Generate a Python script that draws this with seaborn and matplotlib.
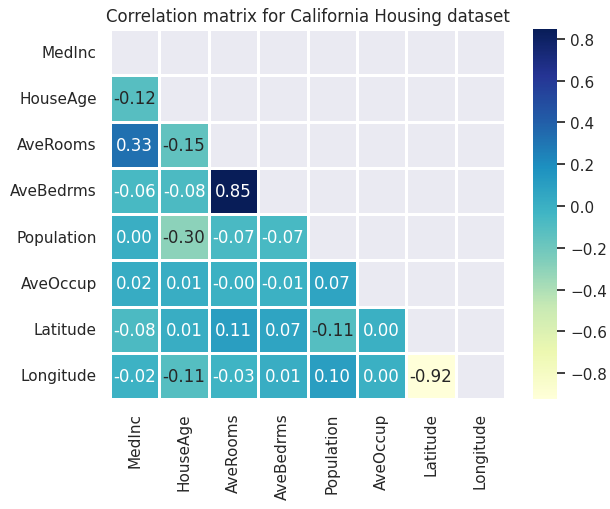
import numpy as np
import pandas as pd
import seaborn as sns
import matplotlib.pyplot as plt

sns.set_theme(style='darkgrid')

features = ['MedInc', 'HouseAge', 'AveRooms', 'AveBedrms',
            'Population', 'AveOccup', 'Latitude', 'Longitude']

# lower triangle of the correlation matrix, row by row
lower_rows = [
    [],
    [-0.119],
    [0.327, -0.153],
    [-0.062, -0.078, 0.847],
    [0.004, -0.296, -0.072, -0.066],
    [0.019, 0.013, -0.004, -0.006, 0.070],
    [-0.080, 0.011, 0.106, 0.070, -0.109, 0.002],
    [-0.017, -0.108, -0.028, 0.013, 0.100, 0.002, -0.924],
]

n = len(features)
corr = np.eye(n)
for i, row in enumerate(lower_rows):
    for j, v in enumerate(row):
        corr[i, j] = v
        corr[j, i] = v
corr = pd.DataFrame(corr, index=features, columns=features)

mask = np.triu(np.ones_like(corr, dtype=bool))

fig = plt.figure(figsize=(6.1, 5.1), dpi=100)
ax = fig.add_axes([110 / 610, 110 / 510, 395 / 610, 370 / 510])
cax = fig.add_axes([533 / 610, 110 / 510, 24 / 610, 370 / 510])

sns.heatmap(corr, mask=mask, cmap='YlGnBu', annot=True, fmt='.2f',
            linewidths=1, linecolor='white', ax=ax, cbar_ax=cax)
ax.grid(False)
ax.set_title('Correlation matrix for California Housing dataset')

plt.savefig('out.png', dpi=100)
plt.close()
